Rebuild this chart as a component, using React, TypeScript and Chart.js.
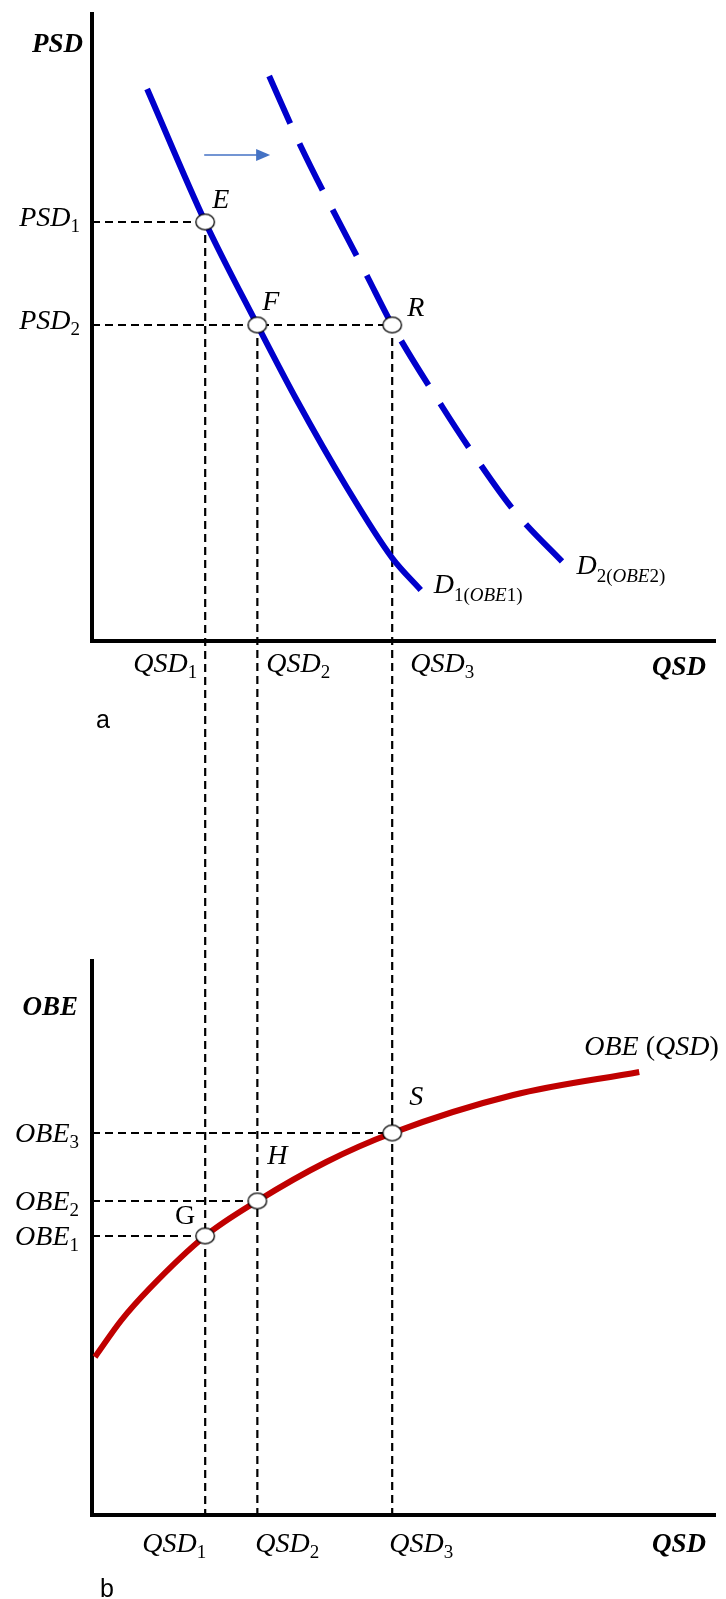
import React, { useEffect, useRef } from "react";
import { Chart, registerables } from "chart.js";
Chart.register(...registerables);

// ---------------- data (economic units) ----------------
const QSD_LEVELS = [2.3, 3.36, 6.1]; // QSD1, QSD2, QSD3
const PSD_LEVELS = [8.38, 6.32]; // PSD1, PSD2
const OBE_LEVELS = [5.58, 6.28, 7.64]; // OBE1, OBE2, OBE3

const QSD_TICK_LABELS = [["QSD", "1"], ["QSD", "2"], ["QSD", "3"]];
const PSD_TICK_LABELS = [["PSD", "1"], ["PSD", "2"]];
const OBE_TICK_LABELS = [["OBE", "1"], ["OBE", "2"], ["OBE", "3"]];

const D1_QSD = [1.12, 2.3, 3.36, 4.16, 5.16, 6.1, 6.68];
const D1_PSD = [11.04, 8.38, 6.32, 4.82, 3.1, 1.66, 1.02];
const D2_QSD = [3.6, 4.22, 5.6, 6.1, 7.12, 7.72, 8.6, 9.62];
const D2_PSD = [11.3, 9.94, 7.28, 6.32, 4.68, 3.78, 2.58, 1.52];
const OBE_CURVE_QSD = [0.06, 0.6, 1.16, 2.3, 3.36, 4.76, 6.1, 8.56, 11.12];
const OBE_CURVE_OBE = [3.16, 3.9, 4.52, 5.58, 6.28, 7.06, 7.64, 8.4, 8.86];

const TOP_POINT_NAMES = ["E", "F", "R"];
const TOP_POINT_QSD = [QSD_LEVELS[0], QSD_LEVELS[1], QSD_LEVELS[2]];
const TOP_POINT_PSD = [PSD_LEVELS[0], PSD_LEVELS[1], PSD_LEVELS[1]];
const BOTTOM_POINT_NAMES = ["G", "H", "S"];
const BOTTOM_POINT_QSD = [QSD_LEVELS[0], QSD_LEVELS[1], QSD_LEVELS[2]];
const BOTTOM_POINT_OBE = [OBE_LEVELS[0], OBE_LEVELS[1], OBE_LEVELS[2]];

const SHIFT_ARROW_QSD = [2.28, 3.62];
const SHIFT_ARROW_PSD = 9.72;

const PSD_AXIS_MAX = 12.58;
const OBE_AXIS_MAX = 11.12;
const QSD_AXIS_MAX = 12.68;

// ---------------- layout ----------------
const W = 726;
const H = 1599;
const UNIT = 50; // px per unit
const LEFT = 92;
const BASE_A = 641; // px of panel a x-axis
const BASE_B = 1515; // px of panel b x-axis
const TOP = BASE_A - PSD_AXIS_MAX * UNIT;
const SPAN = (BASE_B - TOP) / UNIT;

const BLUE = "#0000CC";
const RED = "#C00000";
const ARROW = "#4472C4";
const SERIF = '"Liberation Serif", "Times New Roman", serif';
const MAIN = `italic 28px ${SERIF}`;
const UPRIGHT = `28px ${SERIF}`;
const BOLD = `italic bold 27px ${SERIF}`;
const SUB = `19px ${SERIF}`;
const SUB_IT = `italic 19px ${SERIF}`;
const SANS = `25px "Liberation Sans", Arial, sans-serif`;

type Seg = { t: string; font: string; dy?: number };

function drawRich(ctx: CanvasRenderingContext2D, x: number, y: number, segs: Seg[], align: "left" | "right" = "left") {
  let total = 0;
  const widths = segs.map((s) => {
    ctx.font = s.font;
    const w = ctx.measureText(s.t).width;
    total += w;
    return w;
  });
  let cx = align === "right" ? x - total : x;
  segs.forEach((s, i) => {
    ctx.font = s.font;
    ctx.fillText(s.t, cx, y + (s.dy || 0));
    cx += widths[i];
  });
}

const diagramPlugin = {
  id: "diagram",
  beforeDatasetsDraw(chart: any) {
    const { ctx, scales } = chart;
    const x = scales.x, yA = scales.yA, yB = scales.yB;
    const line = (x1: number, y1: number, x2: number, y2: number) => {
      ctx.beginPath();
      ctx.moveTo(x1, y1);
      ctx.lineTo(x2, y2);
      ctx.stroke();
    };
    ctx.save();
    ctx.strokeStyle = "#000";
    ctx.lineWidth = 2.2;
    ctx.setLineDash([8, 5]);
    const X0 = x.getPixelForValue(0);
    // horizontal guides
    TOP_POINT_QSD.forEach((q, i) => {
      const py = yA.getPixelForValue(TOP_POINT_PSD[i]);
      line(X0, py, x.getPixelForValue(q), py);
    });
    BOTTOM_POINT_QSD.forEach((q, i) => {
      const py = yB.getPixelForValue(BOTTOM_POINT_OBE[i]);
      line(X0, py, x.getPixelForValue(q), py);
    });
    // vertical guides spanning both panels
    TOP_POINT_QSD.forEach((q, i) => {
      const px = x.getPixelForValue(q);
      line(px, yA.getPixelForValue(TOP_POINT_PSD[i]), px, yB.getPixelForValue(0));
    });
    // axes
    ctx.setLineDash([]);
    ctx.lineWidth = 4;
    ctx.lineCap = "butt";
    line(X0, yA.getPixelForValue(PSD_AXIS_MAX), X0, yA.getPixelForValue(0) + 2);
    line(X0 - 2, yA.getPixelForValue(0), x.getPixelForValue(QSD_AXIS_MAX), yA.getPixelForValue(0));
    line(X0, yB.getPixelForValue(OBE_AXIS_MAX), X0, yB.getPixelForValue(0) + 2);
    line(X0 - 2, yB.getPixelForValue(0), x.getPixelForValue(QSD_AXIS_MAX), yB.getPixelForValue(0));
    // shift arrow
    const ay = yA.getPixelForValue(SHIFT_ARROW_PSD);
    const ax1 = x.getPixelForValue(SHIFT_ARROW_QSD[0]);
    const ax2 = x.getPixelForValue(SHIFT_ARROW_QSD[1]);
    ctx.strokeStyle = ARROW;
    ctx.fillStyle = ARROW;
    ctx.lineWidth = 1.6;
    line(ax1, ay, ax2 - 12, ay);
    ctx.beginPath();
    ctx.moveTo(ax2, ay);
    ctx.lineTo(ax2 - 14, ay - 6);
    ctx.lineTo(ax2 - 14, ay + 6);
    ctx.closePath();
    ctx.fill();
    ctx.restore();
  },
  afterDraw(chart: any) {
    const { ctx, scales } = chart;
    const x = scales.x, yA = scales.yA, yB = scales.yB;
    const X0 = x.getPixelForValue(0);
    const baseA = yA.getPixelForValue(0);
    const baseB = yB.getPixelForValue(0);
    ctx.save();
    ctx.fillStyle = "#000";
    ctx.textBaseline = "alphabetic";
    ctx.textAlign = "left";

    // ----- panel a -----
    drawRich(ctx, X0 - 9, yA.getPixelForValue(PSD_AXIS_MAX) + 40, [{ t: "PSD", font: BOLD }], "right");
    PSD_TICK_LABELS.forEach((lab, i) => {
      const py = yA.getPixelForValue(PSD_LEVELS[i]);
      drawRich(ctx, X0 - 12, py + 4, [{ t: lab[0], font: MAIN }, { t: lab[1], font: SUB, dy: 6 }], "right");
    });
    const topOffsets = [[7, -14], [5, -15], [15, -9]];
    TOP_POINT_NAMES.forEach((n, i) => {
      const px = x.getPixelForValue(TOP_POINT_QSD[i]);
      const py = yA.getPixelForValue(TOP_POINT_PSD[i]);
      drawRich(ctx, px + topOffsets[i][0], py + topOffsets[i][1], [{ t: n, font: MAIN }]);
    });
    // curve labels
    {
      const n = D1_QSD.length - 1;
      const px = x.getPixelForValue(D1_QSD[n]);
      const py = yA.getPixelForValue(D1_PSD[n]);
      drawRich(ctx, px + 13, py + 3, [
        { t: "D", font: MAIN },
        { t: "1(", font: SUB, dy: 8 },
        { t: "OBE", font: SUB_IT, dy: 8 },
        { t: "1)", font: SUB, dy: 8 },
      ]);
    }
    {
      const n = D2_QSD.length - 1;
      const px = x.getPixelForValue(D2_QSD[n]);
      const py = yA.getPixelForValue(D2_PSD[n]);
      drawRich(ctx, px + 11, py + 9, [
        { t: "D", font: MAIN },
        { t: "2(", font: SUB, dy: 8 },
        { t: "OBE", font: SUB_IT, dy: 8 },
        { t: "2)", font: SUB, dy: 8 },
      ]);
    }
    const topQ = [[-8, "right"], [9, "left"], [18, "left"]] as const;
    QSD_TICK_LABELS.forEach((lab, i) => {
      const px = x.getPixelForValue(QSD_LEVELS[i]);
      drawRich(ctx, px + topQ[i][0], baseA + 31, [{ t: lab[0], font: MAIN }, { t: lab[1], font: SUB, dy: 6 }], topQ[i][1]);
    });
    drawRich(ctx, W - 20, baseA + 34, [{ t: "QSD", font: BOLD }], "right");
    drawRich(ctx, X0 + 4, baseA + 87, [{ t: "a", font: SANS }]);

    // ----- panel b -----
    drawRich(ctx, X0 - 14, yB.getPixelForValue(OBE_AXIS_MAX) + 56, [{ t: "OBE", font: BOLD }], "right");
    OBE_TICK_LABELS.forEach((lab, i) => {
      const py = yB.getPixelForValue(OBE_LEVELS[i]);
      drawRich(ctx, X0 - 13, py + 9, [{ t: lab[0], font: MAIN }, { t: lab[1], font: SUB, dy: 6 }], "right");
    });
    const botOffsets: [number, number, string, "left" | "right"][] = [
      [-10, -12, UPRIGHT, "right"],
      [10, -37, MAIN, "left"],
      [17, -28, MAIN, "left"],
    ];
    BOTTOM_POINT_NAMES.forEach((n, i) => {
      const px = x.getPixelForValue(BOTTOM_POINT_QSD[i]);
      const py = yB.getPixelForValue(BOTTOM_POINT_OBE[i]);
      const o = botOffsets[i];
      drawRich(ctx, px + o[0], py + o[1], [{ t: n, font: o[2] }], o[3]);
    });
    {
      const n = OBE_CURVE_QSD.length - 1;
      const px = x.getPixelForValue(OBE_CURVE_QSD[n]);
      const py = yB.getPixelForValue(OBE_CURVE_OBE[n]);
      drawRich(ctx, px - 55, py - 17, [
        { t: "OBE ", font: MAIN },
        { t: "(", font: UPRIGHT },
        { t: "QSD", font: MAIN },
        { t: ")", font: UPRIGHT },
      ]);
    }
    const botQ = [-63, -2, -3];
    QSD_TICK_LABELS.forEach((lab, i) => {
      const px = x.getPixelForValue(QSD_LEVELS[i]);
      drawRich(ctx, px + botQ[i], baseB + 37, [{ t: lab[0], font: MAIN }, { t: lab[1], font: SUB, dy: 6 }]);
    });
    drawRich(ctx, W - 20, baseB + 37, [{ t: "QSD", font: BOLD }], "right");
    drawRich(ctx, X0 + 8, baseB + 82, [{ t: "b", font: SANS }]);
    ctx.restore();
  },
};

function makeMarker(): HTMLCanvasElement {
  const c = document.createElement("canvas");
  c.width = 22;
  c.height = 19;
  const g = c.getContext("2d")!;
  g.beginPath();
  g.ellipse(11, 9.5, 9.3, 7.8, 0, 0, Math.PI * 2);
  g.fillStyle = "#fff";
  g.fill();
  g.lineWidth = 1.3;
  g.strokeStyle = "#000";
  g.stroke();
  return c;
}

export default function App() {
  const ref = useRef<HTMLCanvasElement>(null);
  useEffect(() => {
    document.body.style.margin = "0";
    const canvas = ref.current!;
    const marker = makeMarker();
    const curve = (qs: number[], vs: number[]) => qs.map((q, i) => ({ x: q, y: vs[i] }));
    const lineDs = (label: string, qs: number[], vs: number[], axis: string, color: string, dash: number[]) => ({
      label,
      data: curve(qs, vs),
      yAxisID: axis,
      showLine: true,
      borderColor: color,
      borderWidth: 6,
      borderDash: dash,
      pointRadius: 0,
      tension: 0.4,
      cubicInterpolationMode: "monotone",
      clip: false,
      order: 2,
    });
    const chart = new Chart(canvas, {
      type: "scatter",
      data: {
        datasets: [
          lineDs("D1", D1_QSD, D1_PSD, "yA", BLUE, []),
          lineDs("D2", D2_QSD, D2_PSD, "yA", BLUE, [52, 22]),
          lineDs("OBE(QSD)", OBE_CURVE_QSD, OBE_CURVE_OBE, "yB", RED, []),
          {
            label: "top points",
            data: curve(TOP_POINT_QSD, TOP_POINT_PSD),
            yAxisID: "yA",
            pointStyle: marker as any,
            pointRadius: 9,
            showLine: false,
            clip: false,
            order: 0,
          },
          {
            label: "bottom points",
            data: curve(BOTTOM_POINT_QSD, BOTTOM_POINT_OBE),
            yAxisID: "yB",
            pointStyle: marker as any,
            pointRadius: 9,
            showLine: false,
            clip: false,
            order: 0,
          },
        ],
      } as any,
      options: {
        animation: false,
        responsive: false,
        devicePixelRatio: 1,
        layout: { padding: { left: LEFT, right: 0, top: TOP, bottom: H - BASE_B } },
        plugins: { legend: { display: false }, tooltip: { enabled: false } },
        events: [],
        scales: {
          x: { type: "linear", display: false, min: 0, max: (W - LEFT) / UNIT },
          y: { display: false },
          yA: { type: "linear", display: false, position: "left", min: PSD_AXIS_MAX - SPAN, max: PSD_AXIS_MAX },
          yB: { type: "linear", display: false, position: "left", min: 0, max: SPAN },
        },
      } as any,
      plugins: [diagramPlugin],
    });
    return () => chart.destroy();
  }, []);
  return <canvas ref={ref} width={W} height={H} style={{ display: "block", width: W, height: H }} />;
}
